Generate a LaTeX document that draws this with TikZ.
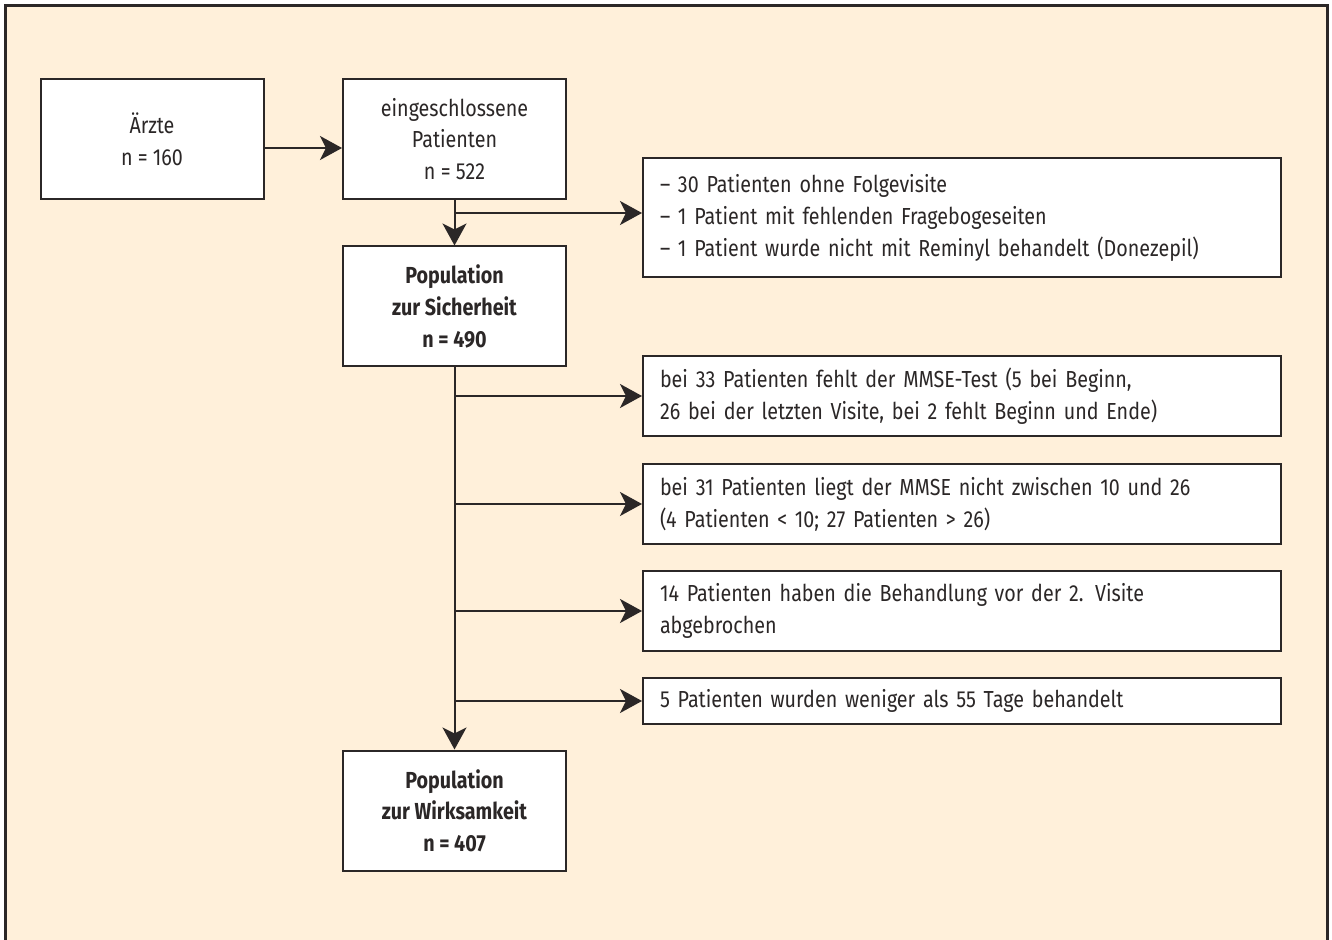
\documentclass[tikz,border=0pt]{standalone}
\usepackage{fontspec}
\setmainfont[FakeStretch=0.85]{Fira Sans}
\usetikzlibrary{arrows.meta,calc}
\definecolor{bg}{HTML}{FFF0DA}
\definecolor{ln}{HTML}{2B2727}
\tikzset{
  cbox/.style={draw=ln, fill=white, line width=1pt, text=ln, align=center,
    minimum width=111.5pt, minimum height=60pt, inner sep=0pt,
    font=\fontsize{11.6}{15.8}\selectfont},
  lbox/.style={draw=ln, fill=white, line width=1pt, text=ln, align=left,
    minimum width=319pt, inner xsep=8.5pt, inner ysep=0pt, text width=302pt,
    font=\fontsize{11.6}{16}\selectfont},
  arr/.style={draw=ln, line width=1pt, -{Stealth[length=11pt,width=12pt,inset=3pt]}}
}
\begin{document}
\begin{tikzpicture}[x=0.5pt,y=-0.5pt]
\useasboundingbox (0,0) rectangle (1332,940);
\fill[bg] (5,6) rectangle (1327,945);
\draw[ln, line width=1.5pt] (5,945) -- (5,6) -- (1327,6) -- (1327,945);

\node[cbox] (arzte) at (152,139) {Ärzte\\n = 160};
\node[cbox] (ein) at (454.5,139) {eingeschlossene\\Patienten\\n = 522};
\node[cbox, font=\fontsize{11.6}{15.8}\selectfont\bfseries] (sich) at (454.5,306.5) {Population\\zur Sicherheit\\n = 490};
\node[cbox, font=\fontsize{11.6}{15.8}\selectfont\bfseries] (wirk) at (454.5,810.5) {Population\\zur Wirksamkeit\\n = 407};

\node[lbox, minimum height=59.5pt] (b1) at (962,217.5) {–~30 Patienten ohne Folgevisite\\–~1 Patient mit fehlenden Fragebogeseiten\\–~1 Patient wurde nicht mit Reminyl behandelt (Donezepil)};
\node[lbox, minimum height=40pt] (b2) at (962,396) {bei 33 Patienten fehlt der MMSE-Test (5 bei Beginn,\\26 bei der letzten Visite, bei 2 fehlt Beginn und Ende)};
\node[lbox, minimum height=40pt] (b3) at (962,504) {bei 31 Patienten liegt der MMSE nicht zwischen 10 und 26\\(4 Patienten < 10; 27 Patienten > 26)};
\node[lbox, minimum height=40pt] (b4) at (962,611) {14 Patienten haben die Behandlung vor der 2. Visite\\abgebrochen};
\node[lbox, minimum height=23pt] (b5) at (962,701) {5 Patienten wurden weniger als 55 Tage behandelt};

\coordinate (a1) at ($(arzte.east)+(0,9)$);
\draw[arr] (a1) -- (a1 -| ein.west);

\draw[arr] (ein.south) -- (sich.north);
\coordinate (j1) at ($(ein.south)+(0,13)$);
\draw[arr] (j1) -- (j1 -| b1.west);

\draw[arr] (sich.south) -- (wirk.north);
\foreach \b in {b2,b3,b4,b5}{
  \draw[arr] (sich.south |- \b.west) -- (\b.west);
}
\end{tikzpicture}
\end{document}
